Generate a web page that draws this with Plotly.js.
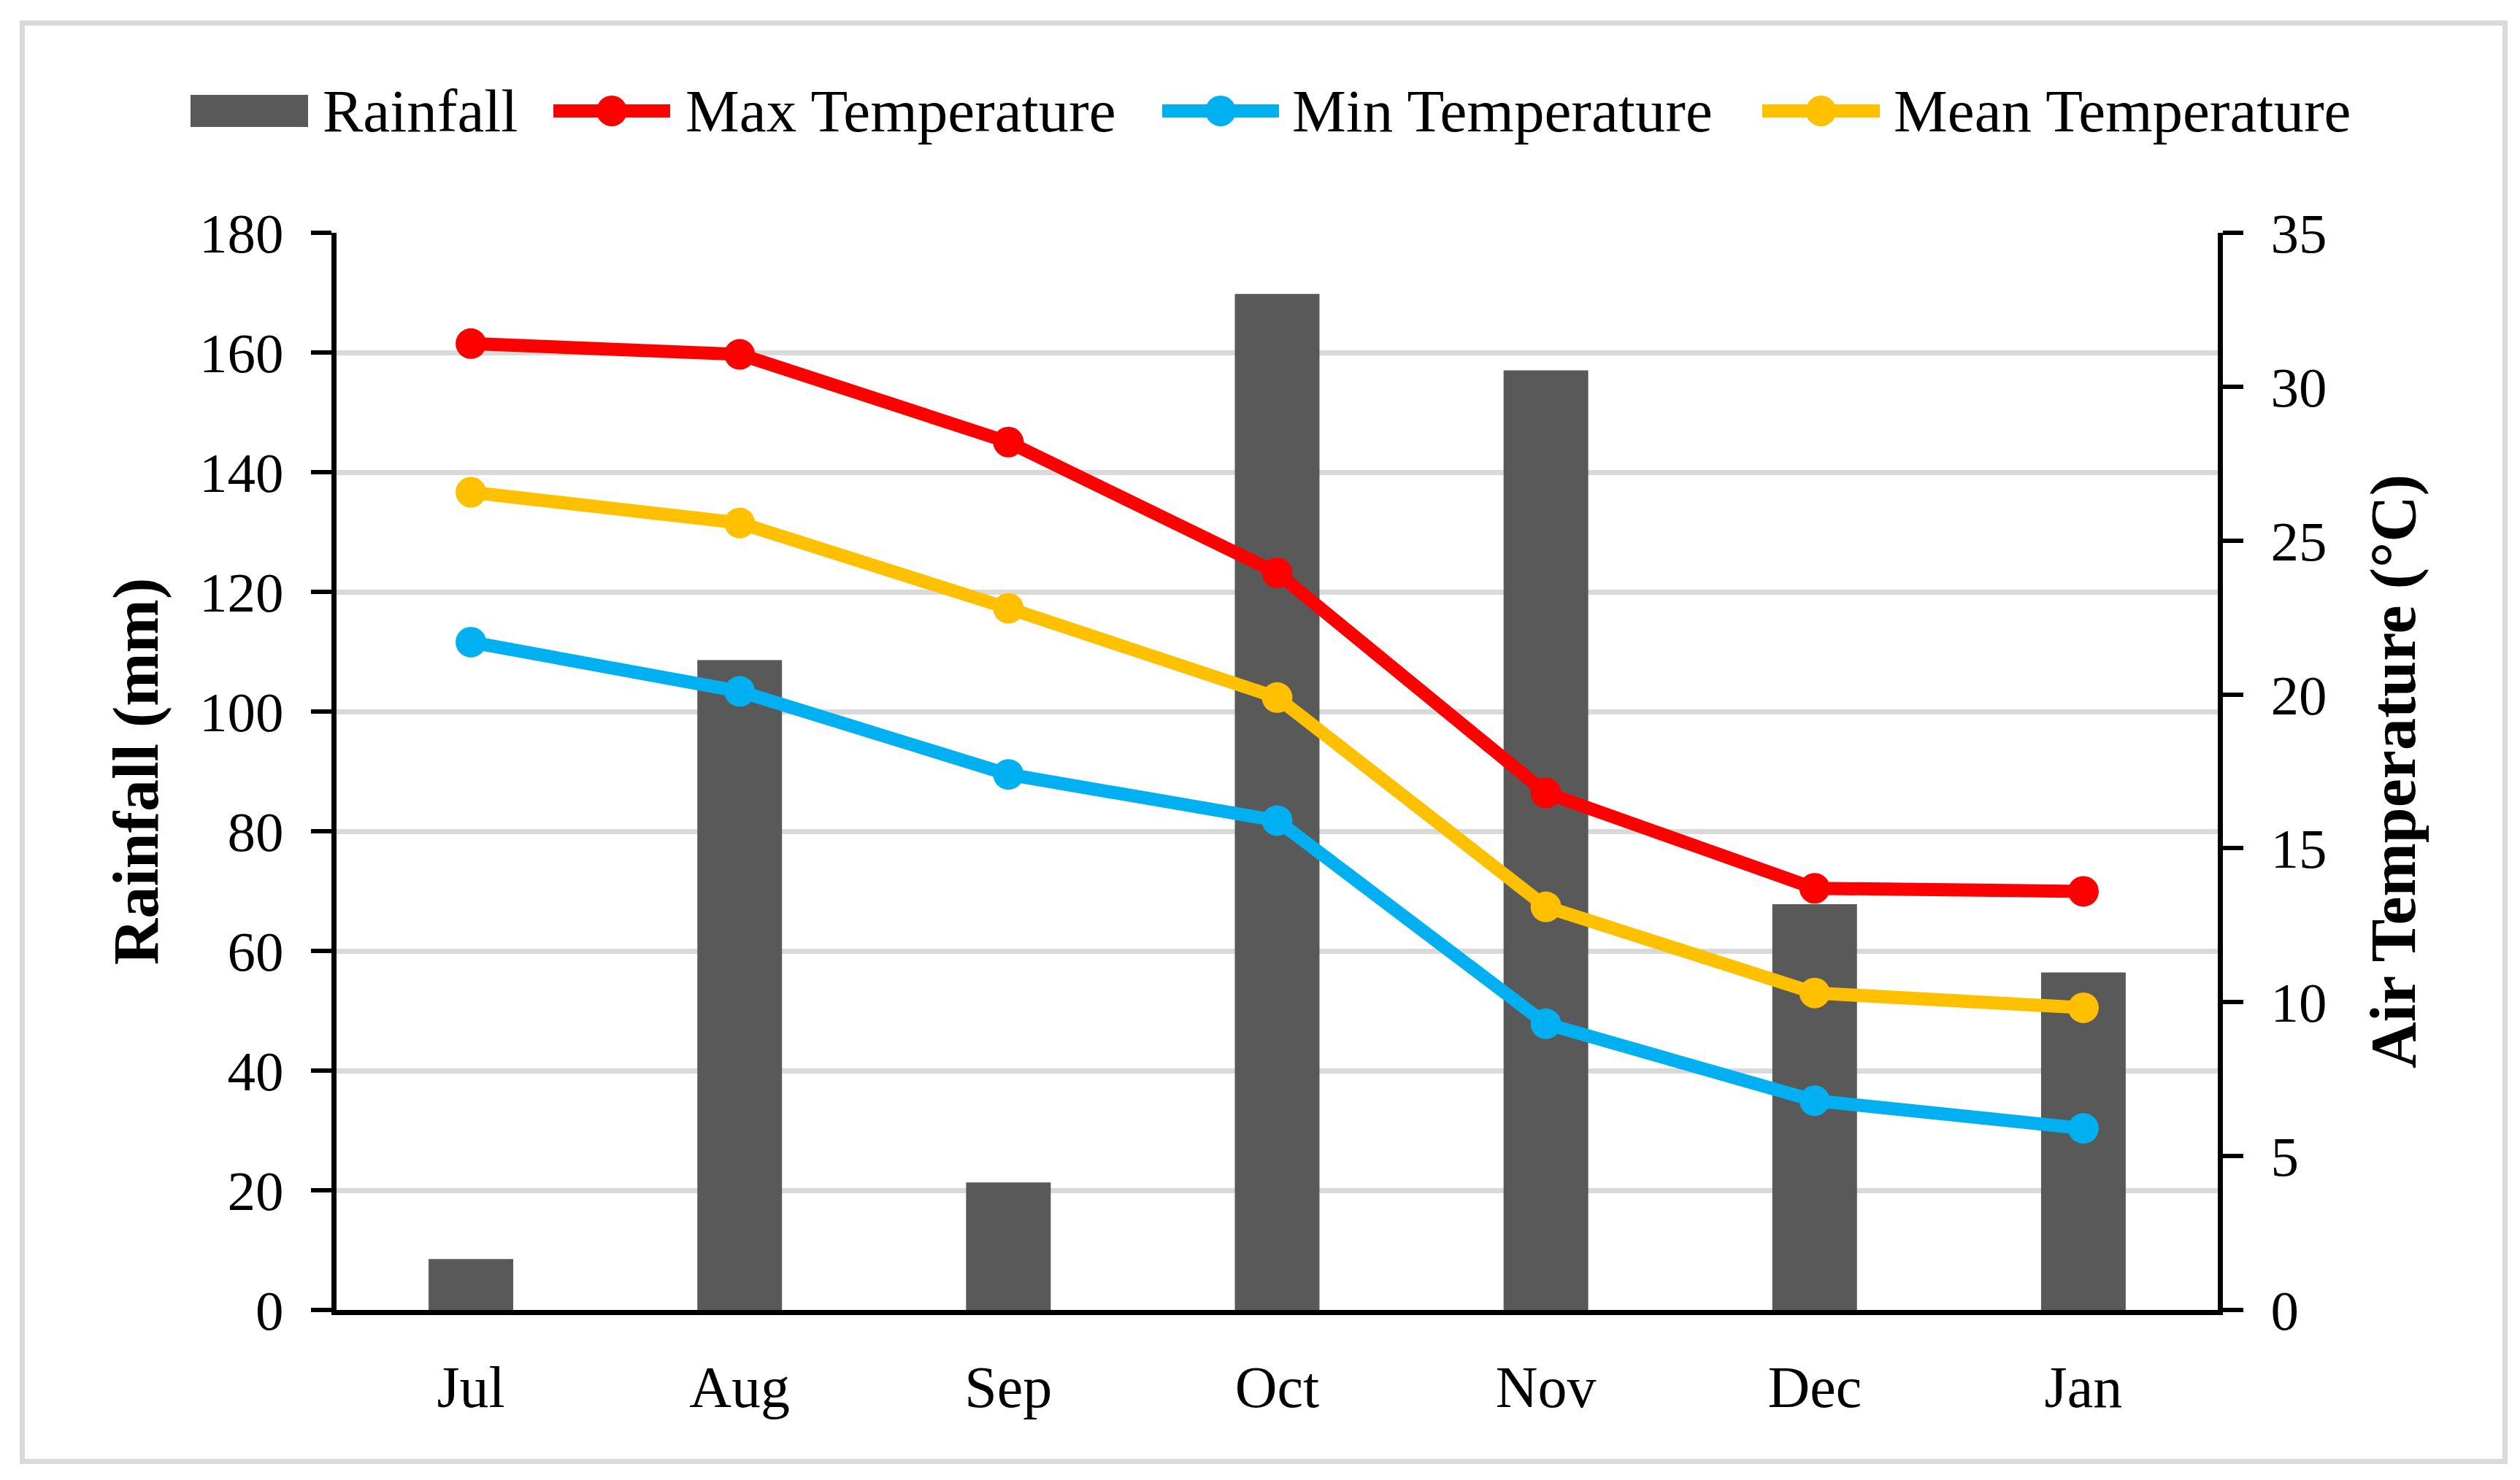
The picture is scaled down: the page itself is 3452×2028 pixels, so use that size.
<!DOCTYPE html>
<html>
<head>
<meta charset="utf-8">
<script src="https://cdn.plot.ly/plotly-3.0.1.min.js"></script>
<style>
html,body{margin:0;padding:0;background:#fff;}
#chart{width:3452px;height:2028px;position:absolute;left:0;top:0;}
#frame{position:absolute;left:27px;top:28px;width:3408px;height:1978px;border:7px solid #d9d9d9;box-sizing:border-box;pointer-events:none;}
</style>
</head>
<body>
<div id="chart"></div>
<div id="frame"></div>
<script>
const months = ["Jul","Aug","Sep","Oct","Nov","Dec","Jan"];
const rainfall = [8.5, 108.6, 21.3, 169.8, 157.0, 67.8, 56.4];
const maxTemp = [31.4, 31.05, 28.2, 23.95, 16.8, 13.7, 13.6];
const minTemp = [21.7, 20.1, 17.4, 15.9, 9.3, 6.8, 5.9];
const meanTemp = [26.57, 25.57, 22.8, 19.9, 13.1, 10.3, 9.82];

const seriesNames = ["Rainfall","Max Temperature","Min Temperature","Mean Temperature"];
const seriesColors = ["#595959","#ff0000","#00b0f0","#ffc000"];

const FONT = "'Liberation Serif', 'Times New Roman', serif";

const W = 3452, H = 2028;
const M = {l:461, r:414, t:319, b:233};
const PW = W - M.l - M.r, PH = H - M.t - M.b;
const px = v => (v - M.l) / PW;
const py = v => (H - M.b - v) / PH;

const traces = [
  {type:'bar', name:seriesNames[0], x:months, y:rainfall, marker:{color:seriesColors[0]}, yaxis:'y'},
  {type:'scatter', mode:'lines+markers', name:seriesNames[1], x:months, y:maxTemp, yaxis:'y2',
   line:{color:seriesColors[1], width:18}, marker:{color:seriesColors[1], size:42}},
  {type:'scatter', mode:'lines+markers', name:seriesNames[2], x:months, y:minTemp, yaxis:'y2',
   line:{color:seriesColors[2], width:18}, marker:{color:seriesColors[2], size:42}},
  {type:'scatter', mode:'lines+markers', name:seriesNames[3], x:months, y:meanTemp, yaxis:'y2',
   line:{color:seriesColors[3], width:18}, marker:{color:seriesColors[3], size:42}}
];

// custom legend (symbols + text), laid out like the original
const legY = 152;
const legItems = [
  {sym:[261,422], text:440},
  {sym:[749,927], text:937},
  {sym:[1583,1761], text:1768},
  {sym:[2405,2584], text:2592}
];
const shapes = [];
const annotations = [];
legItems.forEach((it, i) => {
  if (i === 0) {
    shapes.push({type:'rect', xref:'paper', yref:'paper', x0:px(it.sym[0]), x1:px(it.sym[1]),
      y0:py(174), y1:py(130), fillcolor:seriesColors[0], line:{width:0}});
  } else {
    shapes.push({type:'line', xref:'paper', yref:'paper', x0:px(it.sym[0]+9), x1:px(it.sym[1]-9),
      y0:py(legY), y1:py(legY), line:{color:seriesColors[i], width:18, cap:'round'}});
    const cx = (it.sym[0] + it.sym[1]) / 2;
    shapes.push({type:'circle', xref:'paper', yref:'paper', xsizemode:'pixel', ysizemode:'pixel',
      xanchor:px(cx), yanchor:py(legY), x0:-21, x1:21, y0:-21, y1:21,
      fillcolor:seriesColors[i], line:{width:0}});
  }
  annotations.push({xref:'paper', yref:'paper', x:px(it.text), y:py(legY), xanchor:'left', yanchor:'middle',
    text:seriesNames[i], showarrow:false, font:{family:FONT, size:83, color:'#000'}});
});

const layout = {
  width:W, height:H,
  paper_bgcolor:'#ffffff', plot_bgcolor:'#ffffff',
  margin:{l:M.l, r:M.r, t:M.t, b:M.b, autoexpand:false},
  font:{family:FONT, color:'#000', size:76},
  bargap:0.685,
  showlegend:false,
  shapes:shapes,
  annotations:annotations,
  xaxis:{type:'category', showline:true, linecolor:'#000', linewidth:7, ticks:'',
         showgrid:false, zeroline:false, tickfont:{family:FONT, size:80}, ticklabelstandoff:30},
  yaxis:{range:[0,180], dtick:20, tick0:0, showline:true, linecolor:'#000', linewidth:7,
         ticks:'outside', ticklen:28, tickwidth:6, tickcolor:'#000',
         showgrid:true, gridcolor:'#d9d9d9', gridwidth:7, zeroline:false,
         tickfont:{family:FONT, size:77}, ticklabelstandoff:22,
         title:{text:'<b>Rainfall (mm)</b>', font:{family:FONT, size:88}, standoff:30}},
  yaxis2:{range:[0,35], dtick:5, tick0:0, overlaying:'y', side:'right', showline:true,
          linecolor:'#000', linewidth:7, ticks:'outside', ticklen:28, tickwidth:6, tickcolor:'#000',
          showgrid:false, zeroline:false, tickfont:{family:FONT, size:77}, ticklabelstandoff:22,
          title:{text:'<b>Air Temperature (°C)</b>', font:{family:FONT, size:88}, standoff:62}}
};

Plotly.newPlot('chart', traces, layout, {displayModeBar:false, staticPlot:true});
</script>
</body>
</html>
